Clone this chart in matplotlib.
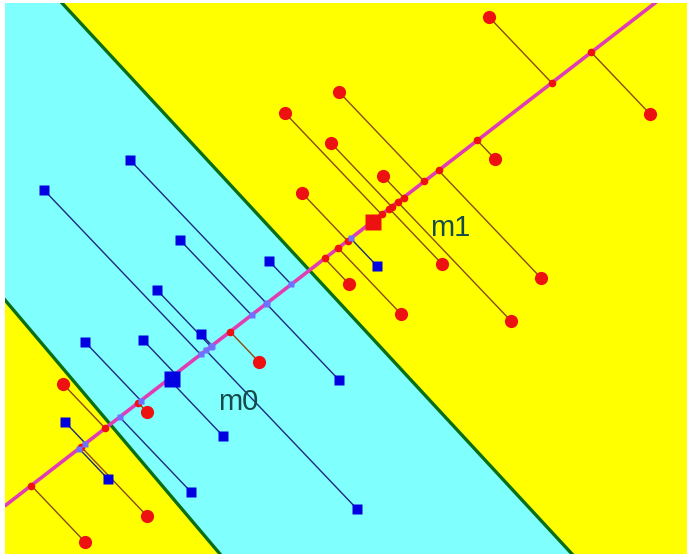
import matplotlib.pyplot as plt
import numpy as np

# points (pixel units, y grows downward)
red_x = [489, 650, 339, 285, 331, 495, 383, 302, 442, 541, 349, 401, 511, 259, 147, 63, 147, 85]
red_y = [17, 114, 92, 113, 143, 159, 176, 193, 264, 278, 284, 314, 321, 362, 412, 384, 516, 542]
blue_x = [130, 44, 180, 269, 157, 201, 85, 143, 339, 223, 65, 108, 191, 357, 377]
blue_y = [160, 190, 240, 261, 290, 334, 342, 340, 380, 436, 422, 479, 492, 509, 266]
mean0 = (172, 379)
mean1 = (373, 222)

# projection axis and the two decision boundaries
axis_x = [6, 655]
axis_y = [505, 3]
upper_x = [62, 572]
upper_y = [3, 554]
lower_x = [5, 220]
lower_y = [300, 554]
proj_slope = 1.05  # direction of the projection connectors

XMIN, XMAX, YTOP, YBOT = 5, 687, 3, 554


def project(px, py):
    # oblique projection of points onto the axis line along proj_slope
    px = np.asarray(px, float)
    py = np.asarray(py, float)
    m = (axis_y[1] - axis_y[0]) / (axis_x[1] - axis_x[0])
    c = axis_y[0] - m * axis_x[0]
    qx = (py - proj_slope * px - c) / (m - proj_slope)
    qy = m * qx + c
    return qx, qy


fig = plt.figure(figsize=(6.87, 5.55), dpi=100)
ax = fig.add_axes([XMIN / 687, 1 - YBOT / 555, (XMAX - XMIN) / 687, (YBOT - YTOP) / 555])
ax.set_xlim(XMIN, XMAX)
ax.set_ylim(YBOT, YTOP)
ax.set_facecolor("#ffff00")
ax.axis("off")
ax.add_patch(plt.Rectangle((XMIN, YTOP), XMAX - XMIN, YBOT - YTOP, color="#ffff00", zorder=0))

# cyan band between the boundaries
band = [(XMIN, YTOP), (upper_x[0], upper_y[0]), (upper_x[1], upper_y[1]),
        (lower_x[1], lower_y[1]), (lower_x[0], lower_y[0])]
ax.add_patch(plt.Polygon(band, closed=True, facecolor="#80ffff", edgecolor="none", zorder=1))
ax.plot(upper_x, upper_y, color="#0a6e14", lw=2.4, zorder=2)
ax.plot(lower_x, lower_y, color="#0a6e14", lw=2.4, zorder=2)

# connectors
rqx, rqy = project(red_x, red_y)
bqx, bqy = project(blue_x, blue_y)
for x, y, qx, qy in zip(red_x, red_y, rqx, rqy):
    ax.plot([x, qx], [y, qy], color="#8a4a10", lw=1.0, zorder=3)
for x, y, qx, qy in zip(blue_x, blue_y, bqx, bqy):
    ax.plot([x, qx], [y, qy], color="#1c2a80", lw=1.0, zorder=3)

ax.plot(axis_x, axis_y, color="#e03cb4", lw=2.6, zorder=4)

ax.plot(rqx, rqy, "o", color="#ee1111", ms=5.5, mec="none", zorder=5)
ax.plot(bqx, bqy, "s", color="#7070ff", ms=4.5, mec="none", zorder=5)

ax.plot(red_x, red_y, "o", color="#ee1111", ms=9.5, mec="none", zorder=6)
ax.plot(blue_x, blue_y, "s", color="#0000e0", ms=7, mec="none", zorder=6)
ax.plot(*mean0, "s", color="#0000e0", ms=11.5, mec="none", zorder=7)
ax.plot(*mean1, "s", color="#ee1111", ms=11.5, mec="none", zorder=7)

ax.text(238, 402, "m0", fontsize=21, color="#174a4a", family="Liberation Sans",
        ha="center", va="center", zorder=8)
ax.text(450, 228, "m1", fontsize=21, color="#174a4a", family="Liberation Sans",
        ha="center", va="center", zorder=8)

fig.savefig("out.png", dpi=100, facecolor="white")
